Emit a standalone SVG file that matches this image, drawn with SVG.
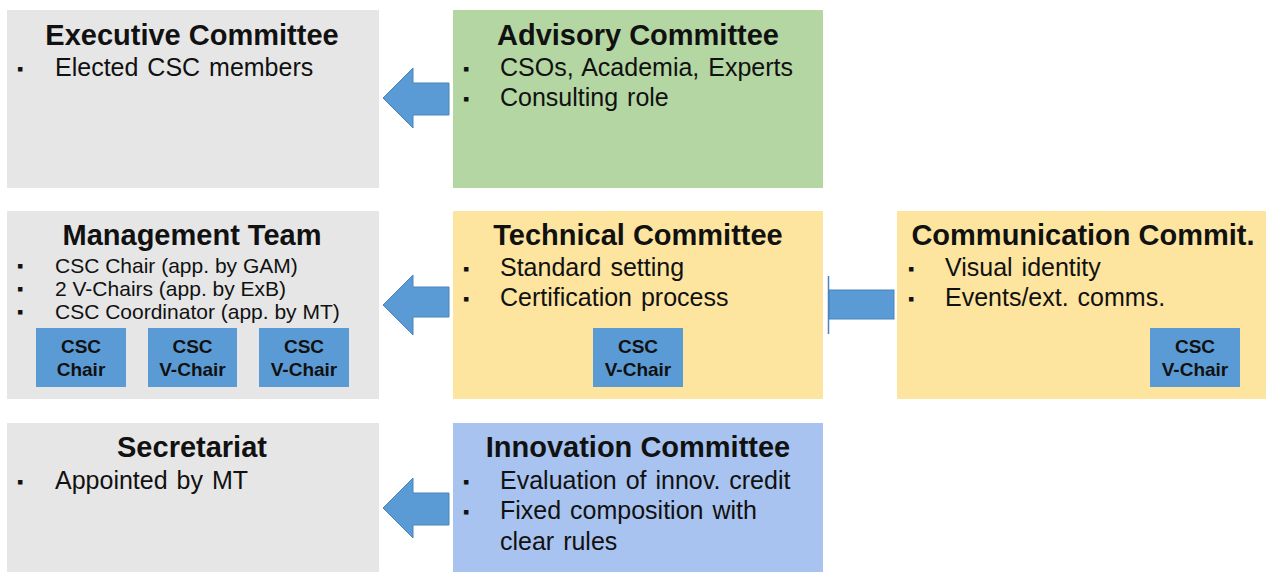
<svg xmlns="http://www.w3.org/2000/svg" width="1266" height="572" viewBox="0 0 1266 572">
<style>
text{font-family:"Liberation Sans",Arial,sans-serif;fill:#111}
.t{font-size:29px;font-weight:bold;text-anchor:middle}
.b{font-size:25px;word-spacing:2px}
.s{font-size:21px}
.bl{font-size:18px}
.grey{fill:#e6e6e6}
.green{fill:#b4d6a2}
.yellow{fill:#fde59f}
.blue{fill:#a8c3ef}
.chip{fill:#5b9bd5}
.ct{font-size:19px;font-weight:bold;text-anchor:middle}
.arr{fill:#5b9bd5;stroke:#4a84bb;stroke-width:1}
</style>
<rect width="1266" height="572" fill="#fff"/>
<g id="executive">
<rect class="grey" x="7" y="10" width="372" height="178"/>
<text class="t" x="192" y="45">Executive Committee</text>
<text class="bl" x="17" y="75">▪</text><text class="b" x="55" y="76">Elected CSC members</text>
</g>
<g id="advisory">
<rect class="green" x="453" y="10" width="370" height="178"/>
<text class="t" x="638" y="45">Advisory Committee</text>
<text class="bl" x="463" y="75">▪</text><text class="b" x="500" y="76">CSOs, Academia, Experts</text>
<text class="bl" x="463" y="105">▪</text><text class="b" x="500" y="106">Consulting role</text>
</g>
<g id="management">
<rect class="grey" x="7" y="211" width="372" height="188"/>
<text class="t" x="192" y="245">Management Team</text>
<text class="bl" x="17" y="272">▪</text><text class="s" x="55" y="273">CSC Chair (app. by GAM)</text>
<text class="bl" x="17" y="295">▪</text><text class="s" x="55" y="296">2 V-Chairs (app. by ExB)</text>
<text class="bl" x="17" y="318">▪</text><text class="s" x="55" y="319">CSC Coordinator (app. by MT)</text>
<g id="mt-chair"><rect class="chip" x="36" y="328" width="90" height="59"/><text class="ct" x="81" y="353">CSC</text><text class="ct" x="81" y="376">Chair</text></g>
<g id="mt-vchair1"><rect class="chip" x="148" y="328" width="89" height="59"/><text class="ct" x="192.5" y="353">CSC</text><text class="ct" x="192.5" y="376">V-Chair</text></g>
<g id="mt-vchair2"><rect class="chip" x="259" y="328" width="90" height="59"/><text class="ct" x="304" y="353">CSC</text><text class="ct" x="304" y="376">V-Chair</text></g>
</g>
<g id="technical">
<rect class="yellow" x="453" y="211" width="370" height="188"/>
<text class="t" x="638" y="245">Technical Committee</text>
<text class="bl" x="463" y="275">▪</text><text class="b" x="500" y="276">Standard setting</text>
<text class="bl" x="463" y="305">▪</text><text class="b" x="500" y="306">Certification process</text>
<g id="tc-vchair"><rect class="chip" x="593" y="328" width="90" height="59"/><text class="ct" x="638" y="353">CSC</text><text class="ct" x="638" y="376">V-Chair</text></g>
</g>
<g id="communication">
<rect class="yellow" x="897" y="211" width="369" height="188"/>
<text class="t" x="1083" y="245">Communication Commit.</text>
<text class="bl" x="908" y="275">▪</text><text class="b" x="945" y="276">Visual identity</text>
<text class="bl" x="908" y="305">▪</text><text class="b" x="945" y="306">Events/ext. comms.</text>
<g id="cc-vchair"><rect class="chip" x="1150" y="328" width="90" height="59"/><text class="ct" x="1195" y="353">CSC</text><text class="ct" x="1195" y="376">V-Chair</text></g>
</g>
<g id="secretariat">
<rect class="grey" x="7" y="423" width="372" height="149"/>
<text class="t" x="192" y="457">Secretariat</text>
<text class="bl" x="17" y="488">▪</text><text class="b" x="55" y="489">Appointed by MT</text>
</g>
<g id="innovation">
<rect class="blue" x="453" y="423" width="370" height="149"/>
<text class="t" x="638" y="457">Innovation Committee</text>
<text class="bl" x="463" y="488">▪</text><text class="b" x="500" y="489">Evaluation of innov. credit</text>
<text class="bl" x="463" y="518">▪</text><text class="b" x="500" y="519">Fixed composition with</text>
<text class="b" x="500" y="550">clear rules</text>
</g>
<g id="connectors">
<polygon class="arr" points="449,83 413,83 413,68 383,98 413,128 413,115 449,115"/>
<polygon class="arr" points="449,287 413,287 413,275 383,305 413,335 413,317 449,317"/>
<polygon class="arr" points="449,493 413,493 413,478 383,508 413,538 413,525 449,525"/>
<rect class="arr" x="829" y="290" width="65" height="29"/>
<line x1="828.5" y1="276" x2="828.5" y2="334" stroke="#4a84bb" stroke-width="1.5"/>
</g>
</svg>
